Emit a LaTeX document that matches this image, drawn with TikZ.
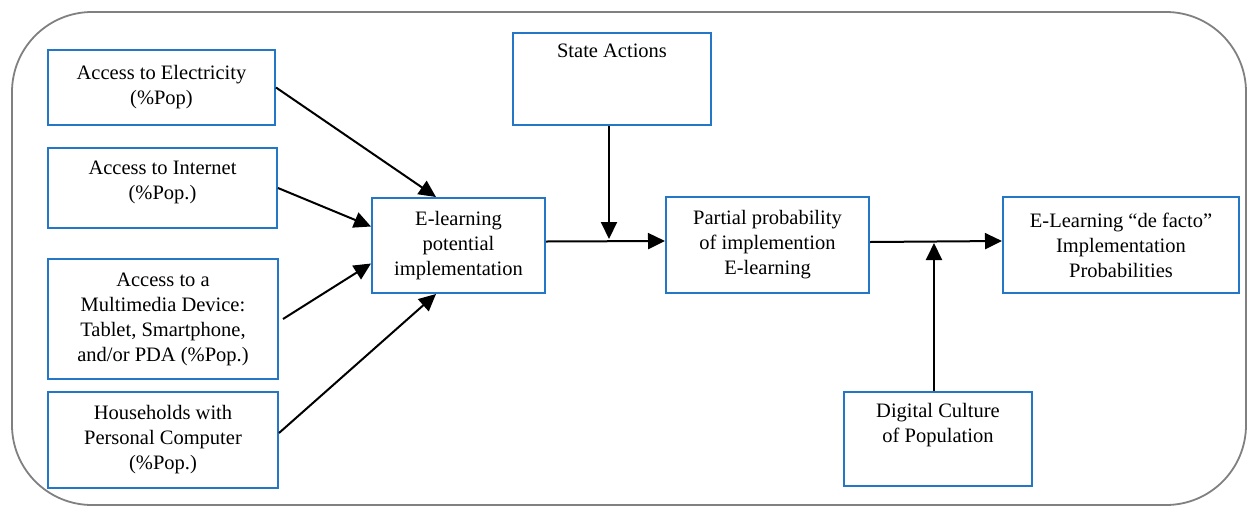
\documentclass[tikz,border=0pt]{standalone}
\usepackage{fontspec}
\setmainfont{Liberation Serif}
\usetikzlibrary{arrows.meta}

\definecolor{boxblue}{RGB}{36,118,198}
\definecolor{framegray}{RGB}{128,128,128}

\begin{document}
\begin{tikzpicture}[
      x=1pt, y=-1pt,
      factor/.style={draw=boxblue, line width=2pt, rectangle, inner sep=0pt,
        align=center, font=\fontsize{20.5}{25}\selectfont},
      frame/.style={draw=framegray, line width=1.8pt, rounded corners=80pt},
      link/.style={line width=2pt, -{Triangle[length=17pt,width=16pt]}},
  ]
    \useasboundingbox (0,0) rectangle (1250,507);
    \draw[frame] (12,12) rectangle (1246,505);

    \node[factor, minimum width=227pt, minimum height=75pt] (elec) at (161.5,87.5)
      {Access to Electricity\\(\%Pop)};
    \node[factor, minimum width=229pt, minimum height=80pt] (inet) at (162.5,188)
      {Access to Internet\\(\%Pop.)\\[-10pt]};
    \node[factor, minimum width=230pt, minimum height=120pt] (media) at (163,319)
      {Access to a\\Multimedia Device:\\Tablet, Smartphone,\\and/or PDA (\%Pop.)};
    \node[factor, minimum width=230pt, minimum height=96pt] (house) at (163,440)
      {Households with\\Personal Computer\\(\%Pop.)};
    \node[factor, minimum width=173pt, minimum height=95pt] (epot) at (458.5,245.5)
      {E-learning\\potential\\implementation};
    \node[factor, minimum width=198pt, minimum height=92pt] (state) at (612,79)
      {State Actions\\\strut\\\strut};
    \node[factor, minimum width=203pt, minimum height=96pt] (partial) at (767.5,245)
      {Partial probability\\of implemention\\E-learning};
    \node[factor, minimum width=236pt, minimum height=96pt] (defacto) at (1121,245)
      {E-Learning “de facto”\\Implementation\\Probabilities};
    \node[factor, minimum width=188pt, minimum height=94pt] (digital) at (938,439)
      {Digital Culture\\of Population\\\strut};

    \coordinate (sa) at (609,239);
    \coordinate (dc) at (934,243);

    \draw[link] (elec.east) -- ([xshift=65pt]epot.north west);
    \draw[link] (inet.east) -- ([yshift=19pt]epot.west);
    \draw[link] ([xshift=4pt]media.east) -- ([yshift=-18pt]epot.west);
    \draw[link] ([yshift=7pt]house.east) -- ([xshift=65pt]epot.south west);
    \draw[link] ([yshift=4pt]epot.east) -- ([yshift=4pt]partial.west);
    \draw[link] (state.south -| sa) -- (sa);
    \draw[link] ([yshift=3pt]partial.east) -- ([yshift=4pt]defacto.west);
    \draw[link] (digital.north -| dc) -- (dc);
  \end{tikzpicture}
\end{document}
